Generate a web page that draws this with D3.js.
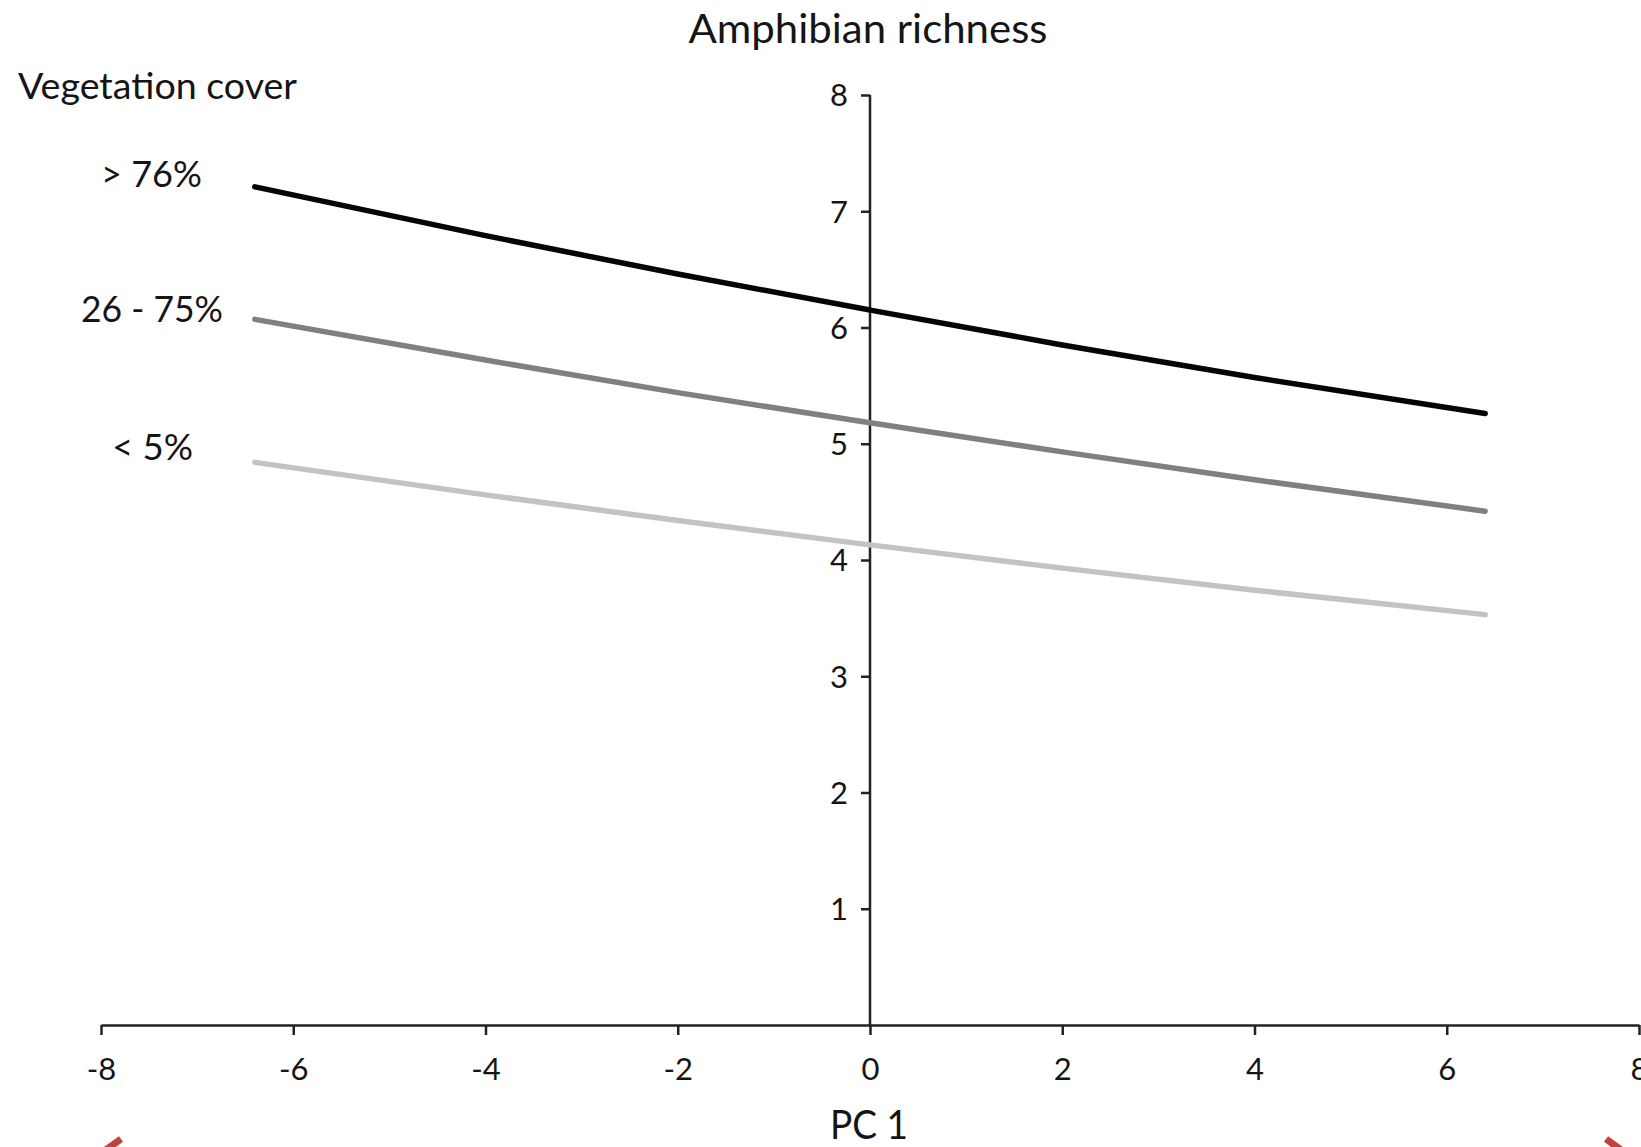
<!DOCTYPE html>
<html>
<head>
<meta charset="utf-8">
<script src="https://cdn.jsdelivr.net/npm/d3@7"></script>
<style>
  html, body { margin: 0; padding: 0; background: #fff; }
  svg { display: block; }
  text { font-family: Lato, "Open Sans", sans-serif; fill: #151515; }
</style>
</head>
<body>
<script>
// ---- data ----
const pcValues   = [-6.4, -4, -2, 0, 2, 4, 6.4];
const coverHigh  = [7.21, 6.79, 6.46, 6.15, 5.85, 5.57, 5.26];  // > 76%
const coverMid   = [6.07, 5.72, 5.44, 5.18, 4.93, 4.69, 4.42];  // 26 - 75%
const coverLow   = [4.84, 4.56, 4.34, 4.13, 3.93, 3.74, 3.53];  // < 5%
const seriesNames = ["> 76%", "26 - 75%", "< 5%"];
const xTicks = [-8, -6, -4, -2, 0, 2, 4, 6, 8];
const yTicks = [1, 2, 3, 4, 5, 6, 7, 8];

const W = 1641, H = 1147;
const svg = d3.select("body").append("svg").attr("width", W).attr("height", H);

const x = d3.scaleLinear().domain([-8, 8]).range([101, 1639]);
const y = d3.scaleLinear().domain([0, 8]).range([1025, 95]);

const axisColor = "#222";
const fmt = d => String(d);

// x axis
const xAxis = d3.axisBottom(x).tickValues(xTicks).tickSize(10).tickSizeOuter(0).tickFormat(fmt);
const gx = svg.append("g").attr("transform", `translate(0,${y(0)})`).call(xAxis);
gx.select(".domain").attr("stroke", axisColor).attr("stroke-width", 2.5);
gx.selectAll(".tick line").attr("stroke", axisColor).attr("stroke-width", 2.5);
gx.selectAll(".tick text").attr("font-size", 31).attr("fill", "#151515")
  .attr("font-family", "Lato, sans-serif").attr("dy", 0).attr("y", 55);

// y axis
const yAxis = d3.axisLeft(y).tickValues(yTicks).tickSize(9).tickSizeOuter(0).tickFormat(fmt);
const gy = svg.append("g").attr("transform", `translate(${x(0)},0)`).call(yAxis);
gy.select(".domain").attr("stroke", axisColor).attr("stroke-width", 2.5)
  .attr("d", `M0,${y(0)}V${y(8)}`);
gy.selectAll(".tick line").attr("stroke", axisColor).attr("stroke-width", 2.5);
gy.selectAll(".tick text").attr("font-size", 31).attr("fill", "#151515")
  .attr("font-family", "Lato, sans-serif").attr("x", -22).attr("dy", "0.35em");

// series lines
const series = [
  { name: seriesNames[0], values: coverHigh, color: "#050505" },
  { name: seriesNames[1], values: coverMid,  color: "#808080" },
  { name: seriesNames[2], values: coverLow,  color: "#c3c3c3" }
];
const line = d3.line().x((d, i) => x(pcValues[i])).y(d => y(d)).curve(d3.curveMonotoneX);
svg.append("g").selectAll("path").data(series).join("path")
  .attr("d", d => line(d.values))
  .attr("fill", "none")
  .attr("stroke", d => d.color)
  .attr("stroke-width", 5.5)
  .attr("stroke-linecap", "round");

// texts
function fitText(sel, len) {
  sel.attr("textLength", len).attr("lengthAdjust", "spacingAndGlyphs");
  return sel;
}
fitText(svg.append("text").attr("x", 868).attr("y", 43).attr("text-anchor", "middle")
  .attr("font-size", 40).text("Amphibian richness"), 359);
fitText(svg.append("text").attr("x", 18).attr("y", 99)
  .attr("font-size", 36).text("Vegetation cover"), 279);

const labelPos = [
  { x: 101, y: 187, w: 101 },
  { x: 81,  y: 322, w: 142 },
  { x: 112, y: 460, w: 81 }
];
series.forEach((s, i) => {
  fitText(svg.append("text").attr("x", labelPos[i].x).attr("y", labelPos[i].y)
    .attr("font-size", 36).text(s.name), labelPos[i].w);
});

fitText(svg.append("text").attr("x", 869).attr("y", 1139).attr("text-anchor", "middle")
  .attr("font-size", 40).text("PC 1"), 78);

// red marks at the bottom corners
svg.append("path").attr("d", "M121,1139 L103,1152").attr("stroke", "#c4413f")
  .attr("stroke-width", 7).attr("fill", "none");
svg.append("path").attr("d", "M1606,1139 L1624,1152").attr("stroke", "#c4413f")
  .attr("stroke-width", 7).attr("fill", "none");
</script>
</body>
</html>
